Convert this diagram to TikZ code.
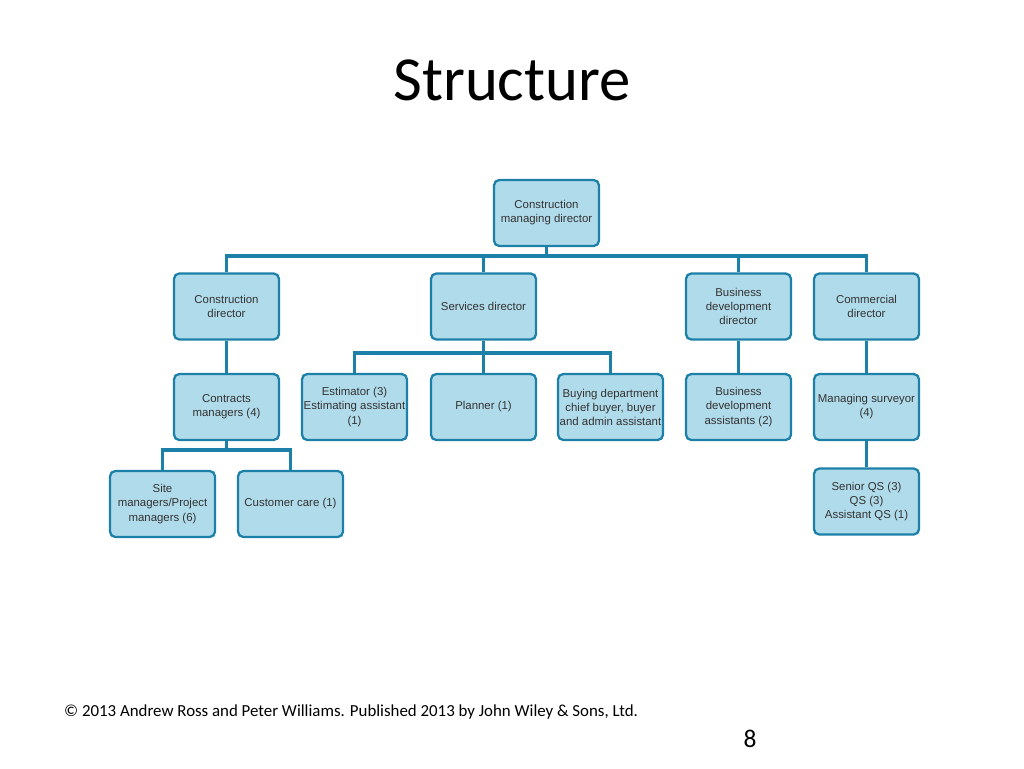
\documentclass[tikz,border=0pt]{standalone}
\usepackage{fontspec}
\setmainfont{Carlito}
\newfontfamily\boxfont{Liberation Sans}
\usepackage{tikz}
\usetikzlibrary{calc, positioning}
\usepackage{xcolor}
\definecolor{boxFill}{RGB}{176, 219, 234}
\definecolor{boxLine}{RGB}{28, 128, 168}

\begin{document}
\begin{tikzpicture}[x=0.02cm, y=-0.02cm,
    post/.style={draw=boxLine, line width=1.3pt, fill=boxFill, rounded corners=3pt,
      minimum width=2.1cm, minimum height=1.32cm, inner xsep=0pt, inner ysep=1pt, align=center,
      text=black!80, font=\boxfont\fontsize{6.5}{8}\selectfont},
    link/.style={draw=boxLine, line width=1.8pt}]
  \useasboundingbox (0, 0) rectangle (1024, 768);
  \node[font=\fontsize{35.7}{42}\selectfont] (title) at (512, 80) {Structure};

  \node[post] (cmd) at (546.5, 213) {Construction\\managing director};

  \node[post] (cd) at (226.5, 306.5) {Construction\\director};
  \node[post] (sd) at (483.5, 306.5) {Services director};
  \node[post] (bdd) at (738.5, 306.5) {Business\\development\\director};
  \node[post] (comd) at (866.5, 306.5) {Commercial\\director};

  \node[post] (cm) at (226.5, 407) {Contracts\\managers (4)};
  \node[post] (est) at (354.5, 407) {Estimator (3)\\Estimating assistant\\(1)};
  \node[post] (pl) at (483.5, 407) {Planner (1)};
  \node[post] (buy) at (610.5, 407) {Buying department\\chief buyer, buyer\\and admin assistant};
  \node[post] (bda) at (738.5, 407) {Business\\development\\assistants (2)};
  \node[post] (ms) at (866.5, 407) {Managing surveyor\\(4)};

  \node[post] (site) at (162.5, 504) {Site\\managers/Project\\managers (6)};
  \node[post] (care) at (290.5, 504) {Customer care (1)};
  \node[post] (qs) at (866.5, 501.5) {Senior QS (3)\\QS (3)\\Assistant QS (1)};

  \coordinate (bus1) at (546.5, 256);
  \coordinate (bus2) at (483.5, 353);
  \coordinate (bus3) at (226.5, 450);

  % top level
  \draw[link] (cmd.south) -- (bus1);
  \draw[link] (cd.north) |- (bus1) -| (comd.north);
  \draw[link] (sd.north) -- (sd.north |- bus1);
  \draw[link] (bdd.north) -- (bdd.north |- bus1);

  % services
  \draw[link] (sd.south) -- (pl.north);
  \draw[link] (est.north) |- (bus2) -| (buy.north);

  % construction
  \draw[link] (cd.south) -- (cm.north);
  \draw[link] (cm.south) -- (bus3);
  \draw[link] (site.north) |- (bus3) -| (care.north);

  \draw[link] (bdd.south) -- (bda.north);
  \draw[link] (comd.south) -- (ms.north);
  \draw[link] (ms.south) -- (qs.north);

  \node[anchor=west, font=\fontsize{9.6}{11}\selectfont] (copy) at (58, 712)
    {\textcopyright{} 2013 Andrew Ross and Peter Williams. Published 2013 by John Wiley \& Sons, Ltd.};
  \node[font=\fontsize{14.5}{16}\selectfont] (page) at (750, 739) {8};
\end{tikzpicture}
\end{document}
